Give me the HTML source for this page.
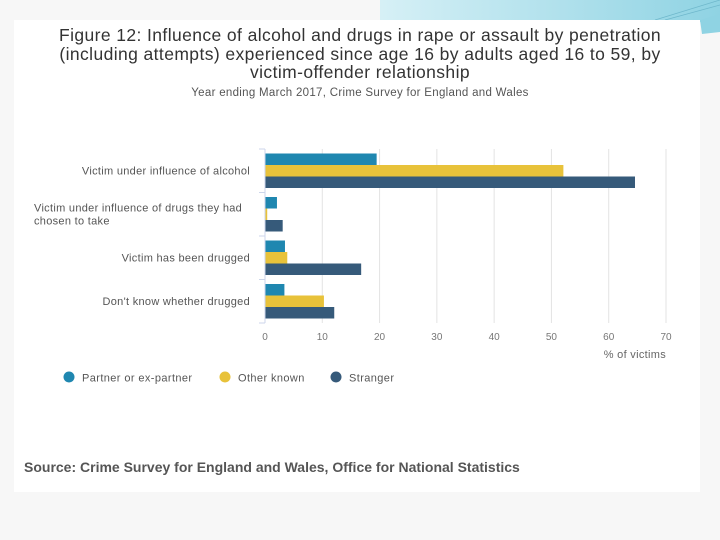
<!DOCTYPE html>
<html><head><meta charset="utf-8"><style>
html,body{margin:0;padding:0;width:720px;height:540px;overflow:hidden;background:#f7f7f7;font-family:"Liberation Sans",sans-serif;}
#card{position:absolute;left:14px;top:20px;width:686px;height:472px;background:#fff;}
.t{position:absolute;left:0;width:720px;text-align:center;color:#333;}
</style></head><body>
<svg width="720" height="100" style="position:absolute;left:0;top:0">
<defs><linearGradient id="g" x1="0" x2="1"><stop offset="0" stop-color="#d6f0f6"/><stop offset="1" stop-color="#8fd3e3"/></linearGradient></defs>
<path d="M380 0 H720 V22 H380 Z" fill="url(#g)"/>
<path d="M700 20 L720 14 L720 32 L702 34 Z" fill="#8fd3e3"/>
<line x1="655" y1="20" x2="720" y2="0" stroke="#6fb8cc" stroke-width="0.8"/>
<line x1="665" y1="20" x2="720" y2="5" stroke="#6fb8cc" stroke-width="0.8"/>
</svg>
<div id="card"></div>
<div class="t" style="top:26px;font-size:17.5px;line-height:18.5px;letter-spacing:0.4px;">Figure 12: Influence of alcohol and drugs in rape or assault by penetration<br>(including attempts) experienced since age 16 by adults aged 16 to 59, by<br>victim-offender relationship</div>
<div class="t" style="top:87px;font-size:11.5px;color:#555;left:0;letter-spacing:0.3px;">Year ending March 2017, Crime Survey for England and Wales</div>
<svg id="chart" width="720" height="400" style="position:absolute;left:0;top:0"></svg>
<div style="position:absolute;left:24px;top:459px;font-size:14px;font-weight:bold;color:#555;">Source: Crime Survey for England and Wales, Office for National Statistics</div>
<script>
const categories=["Victim under influence of alcohol","Victim under influence of drugs they had|chosen to take","Victim has been drugged","Don't know whether drugged"];
const seriesNames=["Partner or ex-partner","Other known","Stranger"];
const partner=[19.4,2.0,3.4,3.3];
const otherKnown=[52.0,0.3,3.8,10.2];
const stranger=[64.5,3.0,16.7,12.0];
const ticks=[0,10,20,30,40,50,60,70];
const colors=["#1f87b0","#e8c23a","#365a7a"];
const svg=document.getElementById('chart');
const NS="http://www.w3.org/2000/svg";
const x0=265,x1=666,vmax=70,yTop=149,band=43.5,barH=11.5;
const xs=v=>x0+(v/vmax)*(x1-x0);
function mk(tag,a){const e=document.createElementNS(NS,tag);for(const k in a)e.setAttribute(k,a[k]);svg.appendChild(e);return e;}
ticks.forEach(t=>{
 const g=mk('line',{x1:xs(t),x2:xs(t),y1:yTop,y2:yTop+band*4,stroke:'#e3e3e3','stroke-width':1});
 
 
 const l=mk('text',{x:xs(t),y:340,'font-size':10,fill:'#777','text-anchor':'middle'});
 l.textContent=t;
 
 
});
const ax=mk('line',{x1:x0,x2:x0,y1:yTop,y2:yTop+band*4,stroke:'#ccd6eb','stroke-width':1});


for(let i=0;i<=4;i++){const tk=mk('line',{x1:x0-6,x2:x0,y1:yTop+band*i,y2:yTop+band*i,stroke:'#ccd6eb'});
 
 }
const all=[partner,otherKnown,stranger];
categories.forEach((c,i)=>{
 const cy=yTop+band*i+band/2;
 all.forEach((s,j)=>{
  const r=mk('rect',{x:x0+0.5,y:cy-barH*1.5+barH*j,width:Math.max(0,xs(s[i])-x0),height:barH,fill:colors[j]});
  
  
 });
 const parts=c.split('|');
 const multi=parts.length>1;
 parts.forEach((p,k)=>{
  const t=mk('text',{x:multi?34:250,y:cy+3.5+(multi?(k-0.5)*13:0),'font-size':11,fill:'#555','text-anchor':multi?'start':'end','letter-spacing':0.3});
  t.textContent=p;
  
  
 });
});
const at=mk('text',{x:666,y:358,'font-size':11,fill:'#666','text-anchor':'end','letter-spacing':0.3});
at.textContent='% of victims';


const lx=[69,225,336];
seriesNames.forEach((n,j)=>{
 const c=mk('circle',{cx:lx[j],cy:377,r:5.5,fill:colors[j]});
 
 
 const t=mk('text',{x:lx[j]+13,y:381.5,'font-size':11,fill:'#555','letter-spacing':0.4});
 t.textContent=n;
 
 
});
</script>
</body></html>
